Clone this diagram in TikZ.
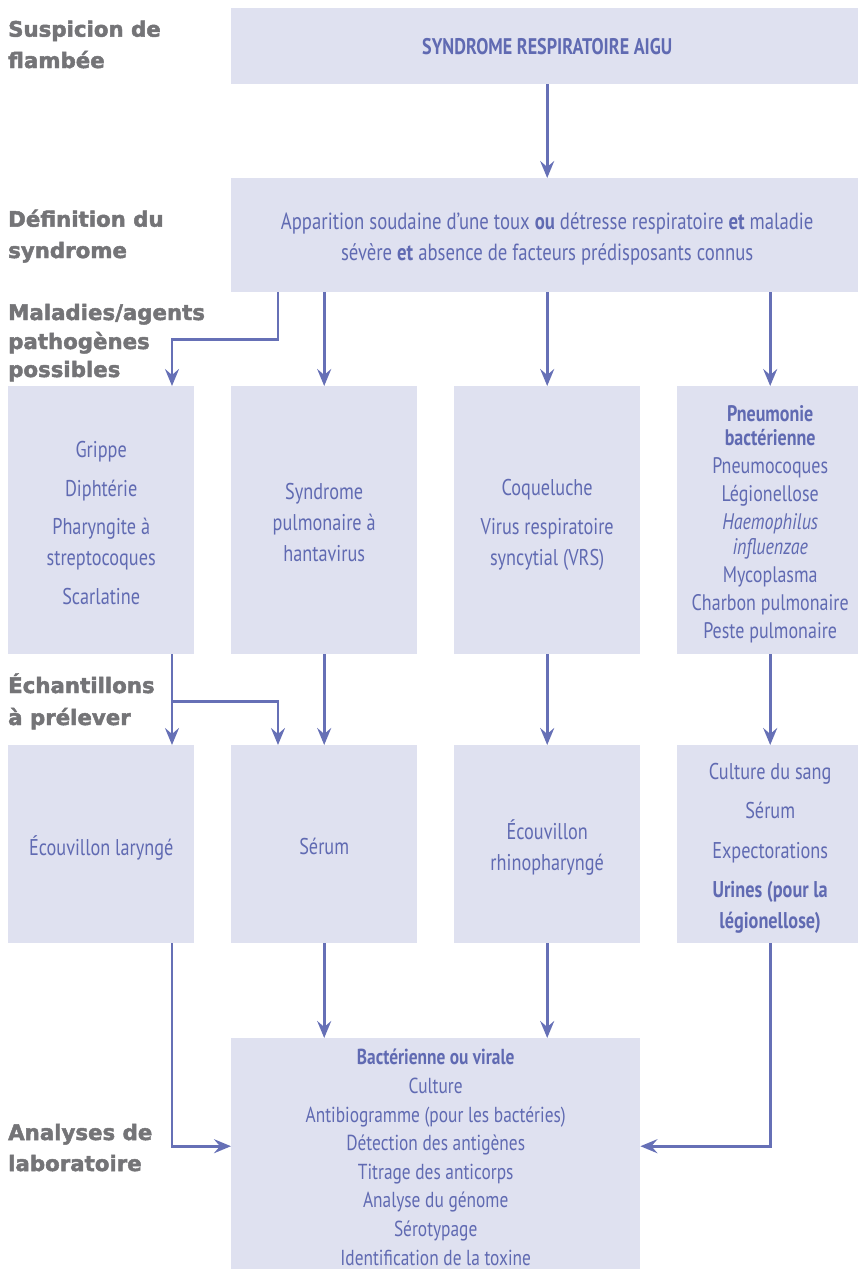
\documentclass[tikz,border=0pt]{standalone}
\usepackage{fontspec}
\setmainfont{PT Sans}[FakeStretch=0.8]
\newfontfamily\headfont{DejaVu Sans}[BoldFeatures={FakeBold=2.2}]
\usetikzlibrary{arrows.meta}

\definecolor{boxfill}{HTML}{DFE1F0}
\definecolor{txt}{HTML}{606AB2}
\definecolor{arr}{HTML}{6670B6}
\definecolor{headgray}{HTML}{747477}

% invisible strut that sets the height of a box's first line
\newcommand\tp[1]{\rule{0pt}{#1pt}}

\tikzset{
  box/.style={rectangle, fill=boxfill, inner sep=0pt, anchor=north west,
    text=txt, align=center},
  colbox/.style={box, minimum width=186pt},
  heading/.style={anchor=base west, inner sep=0pt, text=headgray,
    font=\headfont\bfseries\fontsize{21.3}{26}\selectfont},
  link/.style={draw=arr, line width=2.6pt,
    -{Stealth[length=17pt,width=14pt,inset=6pt]}},
  fs31/.style={font=\fontsize{22.8}{31}\selectfont},
  fs28/.style={font=\fontsize{22.5}{28}\selectfont},
}

\begin{document}
\begin{tikzpicture}[x=1pt,y=-1pt]
\useasboundingbox (0,0) rectangle (858,1269);

% step headings in the left margin
\node[heading] (h1a) at (8,36.7) {Suspicion de};
\node[heading] (h1b) at (8,68) {flambée};
\node[heading] (h2a) at (8,226.7) {Définition du};
\node[heading] (h2b) at (8,258) {syndrome};
\node[heading] (h3a) at (8,320) {Maladies/agents};
\node[heading] (h3b) at (8,349) {pathogènes};
\node[heading] (h3c) at (8,377) {possibles};
\node[heading] (h4a) at (8,693) {Échantillons};
\node[heading] (h4b) at (8,725) {à prélever};
\node[heading] (h5a) at (8,1140) {Analyses de};
\node[heading] (h5b) at (8,1171) {laboratoire};

% suspicion and definition
\node[box, minimum width=632pt, minimum height=76pt,
  font=\bfseries\fontsize{22.6}{26}\selectfont] (top) at (231,8)
  {SYNDROME RESPIRATOIRE AIGU};
\node[box, font=\fontsize{23.4}{31}\selectfont, minimum width=632pt,
  minimum height=114pt] (def) at (231,178)
  {\tp{25}Apparition soudaine d’une toux \textbf{ou} détresse respiratoire \textbf{et} maladie\\
   sévère \textbf{et} absence de facteurs prédisposants connus};

% possible diseases / pathogens
\node[colbox, fs31, minimum height=268pt] (A) at (8,386)
  {\tp{22}Grippe\\[7.5pt] Diphtérie\\[7.5pt] Pharyngite à\\ streptocoques\\[7.5pt] Scarlatine};
\node[colbox, fs31, minimum height=268pt] (B) at (231,386)
  {\tp{21}Syndrome\\ pulmonaire à\\ hantavirus};
\node[colbox, fs31, minimum height=268pt] (C) at (454,386)
  {\tp{25}Coqueluche\\[8pt] Virus respiratoire\\ syncytial (VRS)};
\node[colbox, fs28, minimum height=268pt] (D) at (677,386)
  {\tp{24}\textbf{Pneumonie}\\[-3.5pt] \textbf{bactérienne}\\ Pneumocoques\\ Légionellose\\
   \textit{Haemophilus}\\[-3.5pt] \textit{influenzae}\\ Mycoplasma\\
   Charbon pulmonaire\\ Peste pulmonaire};

% samples
\node[colbox, fs31, minimum height=198pt] (sA) at (8,745) {\tp{26.5}Écouvillon laryngé};
\node[colbox, fs31, minimum height=198pt] (sB) at (231,745) {\tp{21.5}Sérum};
\node[colbox, fs31, minimum height=198pt] (sC) at (454,745)
  {\tp{25.5}Écouvillon\\ rhinopharyngé};
\node[colbox, fs31, minimum height=198pt] (sD) at (677,745)
  {\tp{25}Culture du sang\\[8pt] Sérum\\[8.5pt] Expectorations\\[8pt]
   \textbf{Urines (pour la}\\ \textbf{légionellose)}};

% laboratory analyses
\node[box, font=\fontsize{21.7}{28.6}\selectfont, minimum width=409pt,
  minimum height=231pt] (lab) at (231,1038)
  {\tp{23}\textbf{Bactérienne ou virale}\\ Culture\\ Antibiogramme (pour les bactéries)\\
   Détection des antigènes\\ Titrage des anticorps\\ Analyse du génome\\
   Sérotypage\\ Identification de la toxine};

% connectors
\draw[link] (top.south) -- (def.north);
\draw[link] ([xshift=47pt]def.south west) -- ++(0,47) -| ([xshift=164pt]A.north west);
\draw[link] (def.south -| B.north) -- (B.north);
\draw[link] (def.south -| C.north) -- (C.north);
\draw[link] (def.south -| D.north) -- (D.north);

\draw[link] ([xshift=164pt]A.south west) -- ([xshift=164pt]sA.north west);
\draw[link] ([xshift=164pt]A.south west) -- ++(0,47) -| ([xshift=47pt]sB.north west);
\draw[link] (B.south) -- (sB.north);
\draw[link] (C.south) -- (sC.north);
\draw[link] (D.south) -- (sD.north);

\draw[link] ([xshift=164pt]sA.south west) |- ([yshift=7.5pt]lab.west);
\draw[link] (sB.south) -- (sB.south |- lab.north);
\draw[link] (sC.south) -- (sC.south |- lab.north);
\draw[link] (sD.south) |- ([yshift=7.5pt]lab.east);
\end{tikzpicture}
\end{document}
